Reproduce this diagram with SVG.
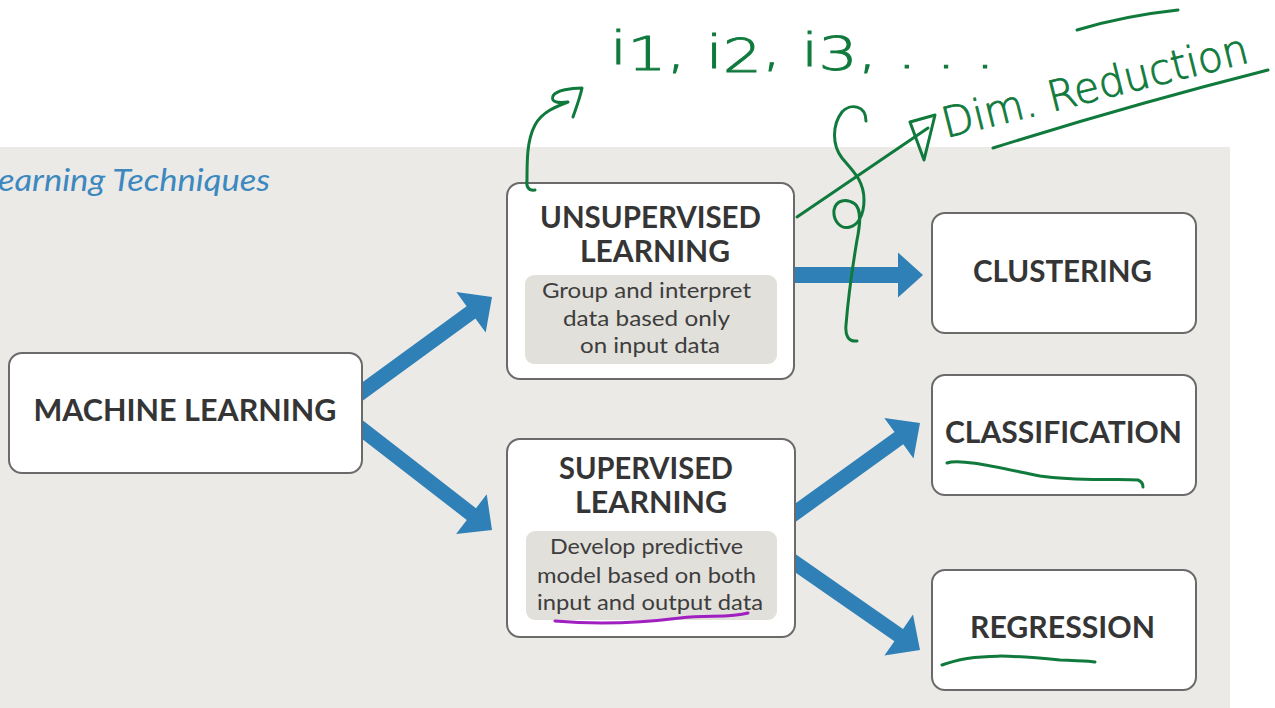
<svg xmlns="http://www.w3.org/2000/svg" width="1275" height="708" viewBox="0 0 1275 708">
  <style>
    .panel { fill: #ebeae7; }
    .box { fill: #ffffff; stroke: #6a6a6a; stroke-width: 2; }
    .inner { fill: #e2e0db; }
    .label { font-family: "Lato", "Liberation Sans", sans-serif; font-weight: 700; font-size: 30px; fill: #353535; text-anchor: middle; }
    .desc { font-family: "Lato", "Liberation Sans", sans-serif; font-weight: 400; font-size: 21px; fill: #3d3d3d; text-anchor: middle; }
    .heading { font-family: "Lato", "Liberation Sans", sans-serif; font-style: italic; font-weight: 400; font-size: 31px; fill: #3c88bf; }
    .flow { fill: #2f80b6; }
    .ink { fill: none; stroke: #107a3d; stroke-width: 3; stroke-linecap: round; stroke-linejoin: round; }
    .ink-purple { fill: none; stroke: #a01fc0; stroke-width: 3; stroke-linecap: round; }
    .hand { font-family: "DejaVu Sans", "Liberation Sans", sans-serif; font-weight: 200; font-size: 46px; fill: #107a3d; stroke: #107a3d; stroke-width: 0.9; }
    .hand-small { font-size: 42px; }
  </style>

  <!-- background panel and heading -->
  <rect class="panel" x="0" y="147" width="1230" height="561"/>
  <text class="heading" x="-2" y="191" textLength="272" lengthAdjust="spacingAndGlyphs">earning Techniques</text>

  <!-- flow arrows -->
  <g id="connectors">
    <polygon class="flow" points="354.4,406.7 475.4,318.4 485.7,332.5 492,297 456.3,292.1 466.6,306.2 345.6,394.5"/>
    <polygon class="flow" points="345.4,425.9 466.8,520.0 456.1,533.9 492,530 486.7,494.3 476.0,508.2 354.6,414.1"/>
    <polygon class="flow" points="790,267 898,267 898,252.5 923,275 898,297.5 898,283 790,283"/>
    <polygon class="flow" points="794.4,522.7 903.3,444.3 913.5,458.5 920,423 884.3,417.9 894.5,432.1 785.6,510.5"/>
    <polygon class="flow" points="785.7,565.7 894.4,641.3 884.4,655.6 920,650 913.0,614.6 903.0,629.0 794.3,553.3"/>
  </g>

  <!-- nodes -->
  <g id="machine-learning">
    <rect class="box" x="9" y="353" width="353" height="120" rx="13"/>
    <text class="label" x="185" y="421" textLength="303" lengthAdjust="spacingAndGlyphs">MACHINE LEARNING</text>
  </g>

  <g id="unsupervised">
    <rect class="box" x="507" y="183" width="287" height="196" rx="13"/>
    <text class="label" x="650.5" y="228" textLength="221" lengthAdjust="spacingAndGlyphs">UNSUPERVISED</text>
    <text class="label" x="655" y="262" textLength="150" lengthAdjust="spacingAndGlyphs">LEARNING</text>
    <rect class="inner" x="525" y="275" width="252" height="89" rx="9"/>
    <text class="desc" x="646.5" y="298" textLength="209" lengthAdjust="spacingAndGlyphs">Group and interpret</text>
    <text class="desc" x="646.5" y="326" textLength="167" lengthAdjust="spacingAndGlyphs">data based only</text>
    <text class="desc" x="650" y="353" textLength="140" lengthAdjust="spacingAndGlyphs">on input data</text>
  </g>

  <g id="supervised">
    <rect class="box" x="507" y="439" width="288" height="198" rx="13"/>
    <text class="label" x="646" y="479" textLength="174" lengthAdjust="spacingAndGlyphs">SUPERVISED</text>
    <text class="label" x="651" y="513" textLength="152" lengthAdjust="spacingAndGlyphs">LEARNING</text>
    <rect class="inner" x="526" y="531" width="251" height="89" rx="9"/>
    <text class="desc" x="646.5" y="554" textLength="193" lengthAdjust="spacingAndGlyphs">Develop predictive</text>
    <text class="desc" x="646.5" y="583" textLength="219" lengthAdjust="spacingAndGlyphs">model based on both</text>
    <text class="desc" x="650" y="610" textLength="226" lengthAdjust="spacingAndGlyphs">input and output data</text>
  </g>

  <g id="clustering">
    <rect class="box" x="932" y="213" width="264" height="120" rx="13"/>
    <text class="label" x="1062.5" y="282" textLength="179" lengthAdjust="spacingAndGlyphs">CLUSTERING</text>
  </g>

  <g id="classification">
    <rect class="box" x="932" y="375" width="264" height="120" rx="13"/>
    <text class="label" x="1063.5" y="443" textLength="237" lengthAdjust="spacingAndGlyphs">CLASSIFICATION</text>
  </g>

  <g id="regression">
    <rect class="box" x="932" y="570" width="264" height="120" rx="13"/>
    <text class="label" x="1062.5" y="638" textLength="185" lengthAdjust="spacingAndGlyphs">REGRESSION</text>
  </g>

  <!-- pen annotations -->
  <g id="annotations">
    <text class="hand" x="610" y="64" textLength="385" lengthAdjust="spacingAndGlyphs">i<tspan dy="6">1</tspan><tspan dy="-2">, i</tspan><tspan dy="4">2</tspan><tspan dy="-6">, i</tspan><tspan dy="4">3</tspan><tspan dy="-2">, . . .</tspan></text>
    <path class="ink" d="M535,190 C528,191 526,186 527,180 C527,160 527,140 535,125 C542,112 555,107 568,102 C560,103 550,103 553,96 C556,90 572,88 582,88 C580,98 576,108 573,117"/>

    <path class="ink" d="M797,217 L928,128"/>
    <path class="ink" d="M910,122 L935,115 L924,160 Z"/>
    <path class="ink" d="M866,121 C866,105 850,103 842,112 C832,125 832,145 842,158 C852,170 864,180 864,200 C864,215 858,225 850,227 C840,230 833,220 834,210 C836,200 846,198 855,204 C862,210 860,225 857,240 C852,270 848,300 846,325 C845,335 848,342 857,341"/>

    <text class="hand hand-small" x="946" y="138" transform="rotate(-14 946 138)" textLength="314" lengthAdjust="spacingAndGlyphs">Dim. Reduction</text>
    <path class="ink" d="M993,148 Q1130,105 1268,70"/>
    <path class="ink" d="M1077,30 C1110,20 1150,13 1178,10"/>

    <path class="ink" d="M947,463 C960,458 1000,468 1040,476 C1080,482 1120,478 1138,480 C1143,482 1143,486 1143,487"/>
    <path class="ink" d="M942,665 C975,652 1020,656 1060,660 C1080,661 1090,661 1095,662"/>
    <path class="ink-purple" d="M555,621 C600,625 640,623 680,618 C710,615 730,618 748,613"/>
  </g>
</svg>
